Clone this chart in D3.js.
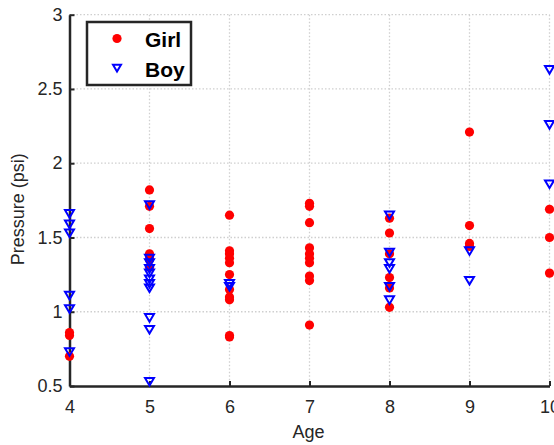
<!DOCTYPE html>
<html>

<head>
	<meta charset="utf-8">
	<title>Pressure by Age</title>
	<script src="https://d3js.org/d3.v7.min.js"></script>
	<style>
		body { margin: 0; background: #fff; }
		text { font-family: "Liberation Sans", Arial, Helvetica, sans-serif; fill: #262626; }
	</style>
</head>

<body>
	<script>
		// Girls
		const girlAge = [4, 4, 4,
			5, 5, 5, 5, 5, 5, 5,
			6, 6, 6, 6, 6, 6, 6, 6, 6, 6, 6,
			7, 7, 7, 7, 7, 7, 7, 7, 7, 7,
			8, 8, 8, 8, 8, 8,
			9, 9, 9, 9,
			10, 10, 10];
		const girlPressure = [0.86, 0.84, 0.70,
			1.82, 1.71, 1.56, 1.39, 1.35, 1.30, 1.37,
			1.65, 1.41, 1.39, 1.36, 1.33, 1.25, 1.15, 1.10, 1.08, 0.84, 0.83,
			1.73, 1.71, 1.60, 1.43, 1.39, 1.36, 1.33, 1.24, 1.21, 0.91,
			1.63, 1.53, 1.39, 1.23, 1.16, 1.03,
			2.21, 1.58, 1.46, 1.44,
			1.69, 1.50, 1.26];

		// Boys
		const boyAge = [4, 4, 4, 4, 4, 4,
			5, 5, 5, 5, 5, 5, 5, 5, 5, 5, 5,
			6, 6,
			8, 8, 8, 8, 8, 8,
			9, 9,
			10, 10, 10];
		const boyPressure = [1.66, 1.59, 1.53, 1.11, 1.02, 0.73,
			1.72, 1.36, 1.33, 1.29, 1.26, 1.22, 1.19, 1.16, 0.96, 0.88, 0.53,
			1.19, 1.17,
			1.65, 1.40, 1.33, 1.29, 1.17, 1.08,
			1.41, 1.21,
			2.63, 2.26, 1.86];

		const xTicks = [4, 5, 6, 7, 8, 9, 10];
		const yTicks = [0.5, 1, 1.5, 2, 2.5, 3];
		const seriesNames = ['Girl', 'Boy'];

		const margin = { top: 14.7, right: 4.5, bottom: 59, left: 69.5 };
		const W = 554, H = 445;
		const width = W - margin.left - margin.right;
		const height = H - margin.top - margin.bottom;

		const svg = d3.select('body')
			.append('svg')
			.attr('width', W)
			.attr('height', H);

		const g = svg.append('g')
			.attr('transform', `translate(${margin.left},${margin.top})`);

		const x = d3.scaleLinear().domain([4, 10]).range([0, width]);
		const y = d3.scaleLinear().domain([0.5, 3]).range([height, 0]);

		// dotted grid
		g.append('g').selectAll('line')
			.data(xTicks.slice(1))
			.enter().append('line')
			.attr('x1', d => x(d)).attr('x2', d => x(d))
			.attr('y1', 0).attr('y2', height)
			.attr('stroke', '#cfcfcf')
			.attr('stroke-width', 1.3)
			.attr('stroke-dasharray', '1.5,2');

		g.append('g').selectAll('line')
			.data(yTicks.slice(1))
			.enter().append('line')
			.attr('x1', 0).attr('x2', width)
			.attr('y1', d => y(d)).attr('y2', d => y(d))
			.attr('stroke', '#cfcfcf')
			.attr('stroke-width', 1.3)
			.attr('stroke-dasharray', '1.5,2');

		// axes, ticks inward
		const xAxis = g.append('g')
			.attr('transform', `translate(0,${height})`)
			.call(d3.axisBottom(x).tickValues(xTicks).tickFormat(d3.format('d'))
				.tickSizeInner(-5).tickSizeOuter(0).tickPadding(14));
		const yAxis = g.append('g')
			.call(d3.axisLeft(y).tickValues(yTicks).tickFormat(d => d)
				.tickSizeInner(-5).tickSizeOuter(0).tickPadding(7));

		[xAxis, yAxis].forEach(a => {
			a.select('.domain').attr('stroke', '#262626').attr('stroke-width', 2.5);
			a.selectAll('.tick line').attr('stroke', '#262626').attr('stroke-width', 2);
			a.selectAll('.tick text').attr('font-size', 18).attr('fill', '#262626')
				.style('font-family', '"Liberation Sans", Arial, sans-serif');
		});

		// axis labels
		svg.append('text')
			.attr('x', margin.left + width / 2 - 1)
			.attr('y', 438)
			.attr('text-anchor', 'middle')
			.attr('font-size', 18)
			.text('Age');

		svg.append('text')
			.attr('transform', `translate(24,${margin.top + height / 2 + 9}) rotate(-90)`)
			.attr('text-anchor', 'middle')
			.attr('font-size', 18)
			.text('Pressure (psi)');

		// triangle pointing down
		const triPath = (s) => `M${-s},${-s * 0.8}L${s},${-s * 0.8}L0,${s * 0.9}Z`;

		// girl points
		g.append('g').selectAll('circle')
			.data(girlAge.map((a, i) => [a, girlPressure[i]]))
			.enter().append('circle')
			.attr('cx', d => x(d[0]))
			.attr('cy', d => y(d[1]))
			.attr('r', 4.6)
			.attr('fill', '#ff0000');

		// boy points
		g.append('g').selectAll('path')
			.data(boyAge.map((a, i) => [a, boyPressure[i]]))
			.enter().append('path')
			.attr('transform', d => `translate(${x(d[0])},${y(d[1])})`)
			.attr('d', triPath(4.5))
			.attr('fill', 'none')
			.attr('stroke', '#0000ff')
			.attr('stroke-width', 2);

		// legend
		const legend = svg.append('g');
		legend.append('rect')
			.attr('x', 87).attr('y', 22)
			.attr('width', 104).attr('height', 63)
			.attr('fill', '#fff')
			.attr('stroke', '#262626')
			.attr('stroke-width', 2.5);

		legend.append('circle')
			.attr('cx', 117).attr('cy', 38.5).attr('r', 4.6)
			.attr('fill', '#ff0000');
		legend.append('path')
			.attr('transform', 'translate(117,68)')
			.attr('d', triPath(4))
			.attr('fill', 'none')
			.attr('stroke', '#0000ff')
			.attr('stroke-width', 2);

		legend.selectAll('text.lbl')
			.data(seriesNames)
			.enter().append('text')
			.attr('class', 'lbl')
			.attr('x', 145)
			.attr('y', (d, i) => 47 + i * 29.5)
			.attr('font-size', 21)
			.attr('font-weight', 'bold')
			.attr('fill', '#000')
			.style('fill', '#000')
			.text(d => d);
	</script>
</body>

</html>
